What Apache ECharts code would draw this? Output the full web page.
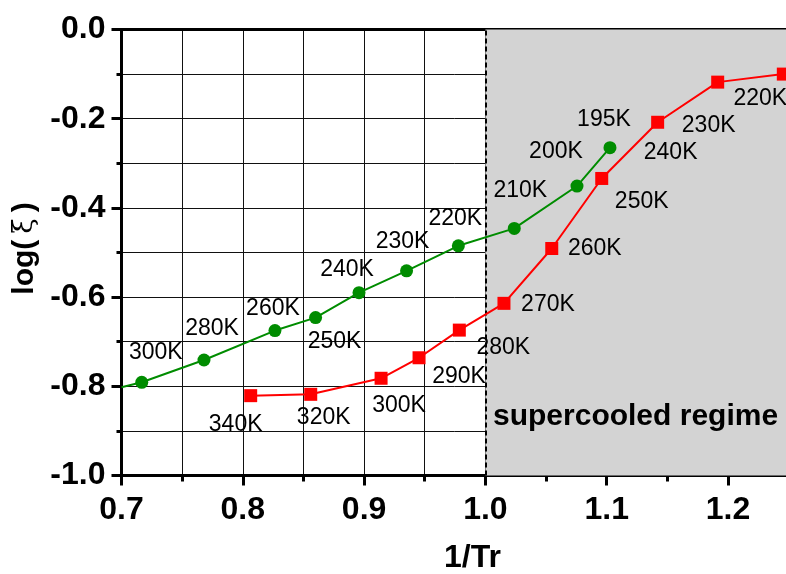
<!DOCTYPE html>
<html><head><meta charset="utf-8">
<script src="https://cdn.jsdelivr.net/npm/echarts@6/dist/echarts.min.js"></script>
<style>html,body{margin:0;padding:0;background:#fff}#c{width:786px;height:574px}</style>
</head><body><div id="c"></div>
<script>
// Green series (circles)
const greenX = [0.7167, 0.768, 0.8265, 0.860, 0.8958, 0.935, 0.9777, 1.0238, 1.0755, 1.1027];
const greenY = [-0.791, -0.741, -0.675, -0.646, -0.590, -0.541, -0.485, -0.446, -0.351, -0.265];
const greenLabels = ['300K','280K','260K','250K','240K','230K','220K','210K','200K','195K'];
const greenLineStart = [0.7, -0.802];
// Red series (squares)
const redX = [0.8065, 0.856, 0.914, 0.9453, 0.9785, 1.0153, 1.0547, 1.0959, 1.142, 1.1915, 1.2456];
const redY = [-0.821, -0.818, -0.782, -0.736, -0.674, -0.614, -0.491, -0.334, -0.208, -0.118, -0.100];
const redLabels = ['340K','320K','300K','290K','280K','270K','260K','250K','240K','230K','220K'];
// Regime boundary
const supercooledStart = 1.0;
const supercooledEnd = 1.3;
const regimeText = 'supercooled regime';
const xTickLabels = ['0.7','0.8','0.9','1.0','1.1','1.2'];

// label offsets (layout only)
const greenOffsets = [[14,-30],[8,-31],[-2,-22],[19,24],[-12,-23],[-4,-29],[-3,-27],[6,-38],[-21,-34],[-6,-28]];
const redOffsets = [[-15,29],[13,23],[18,27],[40,19],[44,18],[44,1],[43,0],[40,23],[13,30],[-9,44],[-23,25]];

const FONT = 'Liberation Sans, Arial, Helvetica, sans-serif';
const labelStyle = (txt, off) => ({show:true, formatter: txt, position:'inside', offset: off,
  color:'#000', fontSize:23, fontFamily: FONT});

const greenData = [{value: greenLineStart, symbol:'none', label:{show:false}}].concat(
  greenX.map((x,i)=>({value:[x, greenY[i]], label: labelStyle(greenLabels[i], greenOffsets[i])})));
const redData = redX.map((x,i)=>({value:[x, redY[i]], label: labelStyle(redLabels[i], redOffsets[i])}));

const chart = echarts.init(document.getElementById('c'), null, {renderer:'canvas'});
const gridLine = {show:true, lineStyle:{color:'#111', width:1}};
chart.setOption({
  animation:false,
  backgroundColor:'#fff',
  grid:{left:121.5, top:29.5, width:727.8, height:446, containLabel:false, outerBoundsMode:'none'},
  xAxis:[{
    type:'value', min:0.7, max:1.3, interval:0.1, position:'bottom',
    name:'1/Tr', nameLocation:'middle', nameGap:67,
    nameTextStyle:{fontSize:32, fontWeight:'bold', color:'#000', fontFamily:FONT, padding:[0,26,0,0]},
    axisLine:{show:true, onZero:false, lineStyle:{color:'#000', width:3}},
    axisTick:{show:true, inside:false, length:10, lineStyle:{color:'#000', width:3}},
    minorTick:{show:true, splitNumber:2, length:6, lineStyle:{color:'#000', width:3}},
    splitLine:gridLine, minorSplitLine:gridLine,
    axisLabel:{show:true, margin:19, fontSize:32, fontWeight:'bold', color:'#000', fontFamily:FONT,
      formatter:v=>{const s=v.toFixed(1); return xTickLabels.includes(s)?s:'';}}
  },{
    type:'value', min:0.7, max:1.3, interval:0.1, position:'top',
    axisLine:{show:true, onZero:false, lineStyle:{color:'#000', width:3}},
    axisTick:{show:false}, axisLabel:{show:false}, splitLine:{show:false}
  }],
  yAxis:{
    type:'value', min:-1.0, max:0, interval:0.2,
    name:'{b|log(}{n|ξ}{b|)}', nameLocation:'middle', nameGap:76, nameRotate:90,
    nameTextStyle:{color:'#000', padding:[0,0,0,8], rich:{
      b:{fontSize:30, fontWeight:'bold', color:'#000', fontFamily:FONT, padding:[0,2,0,2]},
      n:{fontSize:28, fontWeight:'normal', color:'#000', fontFamily:'DejaVu Serif, serif', padding:[0,4,0,4]}
    }},
    axisLine:{show:true, onZero:false, lineStyle:{color:'#000', width:3}},
    axisTick:{show:true, length:10, lineStyle:{color:'#000', width:3}},
    minorTick:{show:true, splitNumber:2, length:5, lineStyle:{color:'#000', width:3}},
    splitLine:gridLine, minorSplitLine:gridLine,
    axisLabel:{show:true, margin:16, fontSize:32, fontWeight:'bold', color:'#000', fontFamily:FONT,
      formatter:v=>v.toFixed(1)}
  },
  series:[
    {type:'line', data:[], z:-1, silent:true,
      markArea:{silent:true, itemStyle:{color:'#d3d3d3'},
        data:[[{xAxis:supercooledStart},{xAxis:supercooledEnd}]]}},
    {type:'line', name:'green', data:greenData, symbol:'circle', symbolSize:13,
      itemStyle:{color:'#008c00'}, lineStyle:{color:'#008c00', width:2}, z:4},
    {type:'line', name:'red', data:redData, symbol:'rect', symbolSize:13,
      itemStyle:{color:'#ff0000'}, lineStyle:{color:'#ff0000', width:2}, z:5,
      markLine:{silent:true, symbol:'none', label:{show:false},
        lineStyle:{color:'#000', type:[5,3], width:2},
        data:[{xAxis:supercooledStart}]}}
  ],
  graphic:[{type:'text', left:493, top:402, z:100, silent:true,
    style:{text:regimeText, fontSize:30, fontWeight:'bold', fill:'#000', fontFamily:FONT}}]
});
</script></body></html>
